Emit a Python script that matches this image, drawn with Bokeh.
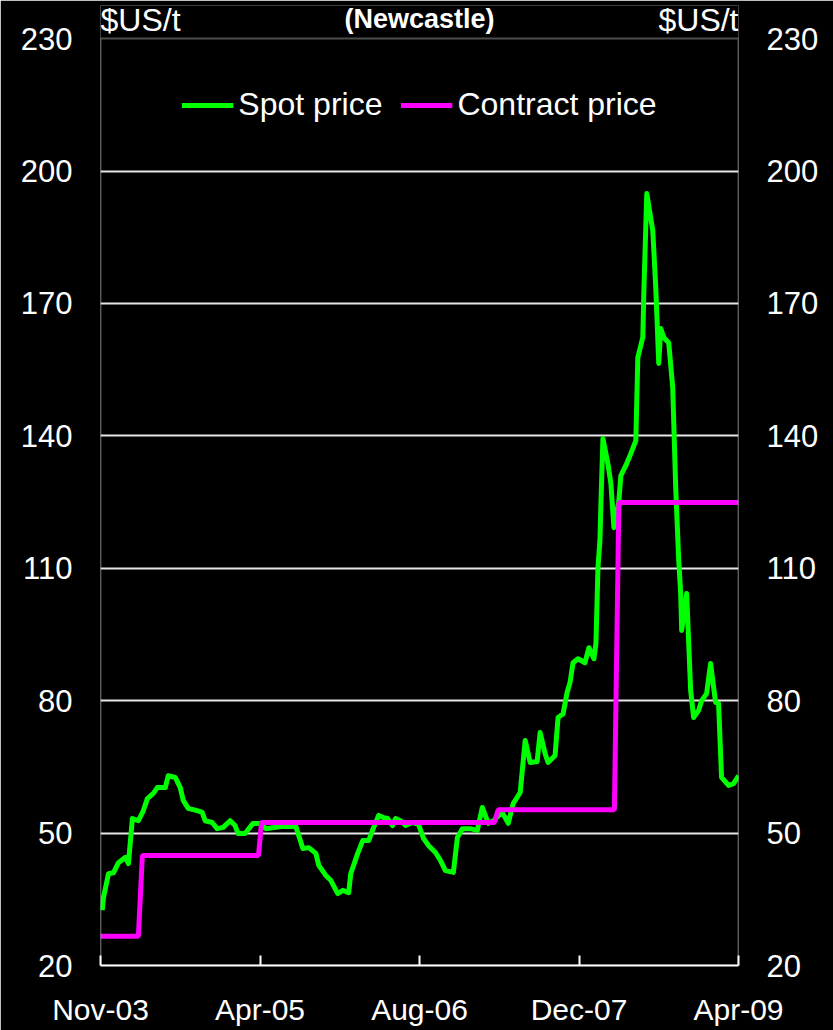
from bokeh.plotting import figure
from bokeh.models import (ColumnDataSource, Range1d, LinearAxis, FixedTicker,
                          Legend, LegendItem, Label, BoxAnnotation)
from bokeh.embed import file_html
from bokeh.resources import INLINE

# x = months since Nov-03 (axis ticks every 16 months as in the source chart)
spot_x = [0.17, 0.3, 0.8, 1.3, 1.8, 2.5, 2.8, 3.2, 3.8, 4.3, 4.7, 5.3, 5.7, 6.5, 6.8,
          7.5, 8.0, 8.3, 8.8, 9.7, 10.2, 10.5, 11.2, 11.7, 12.3, 13.0, 13.5, 13.8,
          14.5, 15.3, 16.0, 16.6, 18.1, 19.6, 20.3, 20.9, 21.6, 21.9, 22.6, 23.1,
          23.8, 24.3, 24.9, 25.1, 25.8, 26.3, 26.9, 27.4, 27.9, 28.4, 28.8, 29.3,
          29.6, 30.1, 30.6, 31.3, 31.9, 32.4, 32.9, 33.6, 34.1, 34.6, 35.4, 35.8,
          36.3, 37.1, 37.8, 38.3, 38.9, 39.4, 40.3, 40.9, 41.4, 42.1, 42.6, 43.1,
          43.8, 44.1, 44.6, 44.9, 45.6, 45.9, 46.4, 46.8, 47.1, 47.4, 47.9, 48.6,
          49.0, 49.5, 49.7, 49.9, 50.1, 50.2, 50.4, 50.9, 51.2, 51.5, 52.0, 52.2,
          52.7, 53.2, 53.7, 53.9, 54.4, 54.5, 54.8, 55.4, 55.7, 56.0, 56.2, 56.5,
          57.0, 57.4, 57.7, 58.0, 58.2, 58.3, 58.8, 59.2, 59.5, 60.0, 60.3, 60.8,
          61.2, 61.7, 62.0, 62.3, 63.0, 63.5, 64.0]
spot_price = [32.5, 35.4, 40.8, 41.0, 43.3, 44.5, 43.1, 53.3, 52.8, 55.1, 57.8, 59.0,
              60.3, 60.3, 63.0, 62.6, 60.3, 57.4, 55.6, 55.1, 54.7, 52.8, 52.4, 51.0,
              51.3, 52.8, 51.7, 49.9, 49.9, 52.2, 52.2, 51.0, 51.5, 51.5, 46.5, 46.7,
              45.4, 42.7, 40.4, 39.3, 36.3, 37.0, 36.5, 40.8, 45.4, 48.3, 48.3, 51.3,
              54.0, 53.5, 53.3, 51.7, 53.3, 52.8, 51.7, 52.4, 52.0, 48.8, 47.2, 45.6,
              43.8, 41.5, 41.1, 49.0, 51.0, 51.0, 50.6, 55.8, 52.2, 52.8, 54.7, 52.2,
              56.7, 59.2, 71.0, 66.0, 66.2, 72.8, 68.0, 66.0, 67.6, 76.2, 77.0, 81.8,
              84.1, 88.6, 89.5, 88.6, 92.0, 89.5, 93.0, 110.0, 116.3, 124.7, 139.4,
              133.7, 129.2, 119.2, 125.3, 131.0, 133.3, 136.0, 138.9, 157.7, 162.3,
              172.2, 194.9, 186.5, 173.6, 156.4, 164.3, 162.3, 161.1, 151.0, 128.3,
              112.0, 104.3, 95.9, 104.3, 82.3, 76.2, 77.8, 80.0, 81.6, 88.4, 79.6,
              79.4, 62.6, 60.8, 61.2, 63.0]

contract_x = [0.0, 3.8, 4.2, 15.85, 16.15, 39.5, 39.9, 51.55, 52.0, 64.0]
contract_price = [26.6, 26.6, 44.9, 44.9, 52.4, 52.4, 55.3, 55.3, 124.9, 124.9]

tick_pos = [0, 16, 32, 48, 64]
tick_labels = ["Nov-03", "Apr-05", "Aug-06", "Dec-07", "Apr-09"]
y_ticks = [20, 50, 80, 110, 140, 170, 200, 230]
grid_ticks = [50, 80, 110, 140, 170, 200]
X_MIN, X_MAX = 0, 64
Y_MIN, Y_MAX = 20, 230
Y_TOP = 237.5  # extra head-room above the box for the unit labels

FONT = "Liberation Sans"

p = figure(width=833, height=1030, output_backend="svg", toolbar_location=None,
           x_range=Range1d(X_MIN, X_MAX), y_range=Range1d(Y_MIN, Y_TOP),
           min_border_left=100, min_border_right=95, min_border_top=5,
           min_border_bottom=65, background_fill_color="black",
           border_fill_color="black", outline_line_color=None,
           y_axis_location=None, x_axis_location=None)

p.xgrid.visible = False
p.ygrid.ticker = FixedTicker(ticks=grid_ticks)
p.ygrid.grid_line_color = "#e6e6e6"
p.ygrid.grid_line_width = 2

# white box around the data area
p.add_layout(BoxAnnotation(left=X_MIN, right=X_MAX, bottom=Y_MIN, top=Y_MAX,
                           fill_color=None, line_color="white", line_width=2))

def style_axis(ax):
    ax.axis_line_color = None
    ax.major_label_text_color = "white"
    ax.major_label_text_font = FONT
    ax.major_label_text_font_size = "31px"
    ax.minor_tick_line_color = None

yl = LinearAxis(ticker=FixedTicker(ticks=y_ticks), bounds=(Y_MIN, Y_MAX))
style_axis(yl)
yl.major_tick_line_color = None
yl.major_label_standoff = 22
p.add_layout(yl, "left")

yr = LinearAxis(ticker=FixedTicker(ticks=y_ticks), bounds=(Y_MIN, Y_MAX))
style_axis(yr)
yr.major_tick_line_color = None
yr.major_label_standoff = 22
p.add_layout(yr, "right")

xb = LinearAxis(ticker=FixedTicker(ticks=tick_pos))
style_axis(xb)
xb.axis_line_color = "white"
xb.axis_line_width = 2
xb.major_label_text_font_size = "30px"
xb.major_label_overrides = {t: l for t, l in zip(tick_pos, tick_labels)}
xb.major_tick_in = 10
xb.major_tick_out = 0
xb.major_tick_line_color = "white"
xb.major_tick_line_width = 2
xb.major_label_standoff = 27
p.add_layout(xb, "below")

src_s = ColumnDataSource(dict(x=spot_x, y=spot_price))
src_c = ColumnDataSource(dict(x=contract_x, y=contract_price))
r_s = p.line("x", "y", source=src_s, line_color="#00ff00", line_width=5,
             line_join="round")
r_c = p.line("x", "y", source=src_c, line_color="#ff00ff", line_width=5)

legend = Legend(items=[LegendItem(label="Spot price", renderers=[r_s]),
                       LegendItem(label="Contract price", renderers=[r_c])],
                location="top_center", orientation="horizontal",
                background_fill_color="black", background_fill_alpha=1.0,
                border_line_color=None, label_text_color="white",
                label_text_font=FONT, label_text_font_size="32px",
                glyph_width=52, glyph_height=30, label_standoff=5,
                spacing=18, padding=0, margin=81)
p.add_layout(legend, "center")

for xx, align in ((X_MIN, "left"), (X_MAX, "right")):
    p.add_layout(Label(x=xx, y=234.3, text="$US/t", text_color="white",
                       text_font=FONT, text_font_size="32px",
                       text_align=align, text_baseline="alphabetic"))
p.add_layout(Label(x=(X_MIN + X_MAX) / 2, y=234.4, text="(Newcastle)",
                   text_color="white", text_font=FONT, text_font_size="27px",
                   text_font_style="bold", text_align="center",
                   text_baseline="alphabetic"))

open("out.html", "w").write(file_html(p, INLINE))
